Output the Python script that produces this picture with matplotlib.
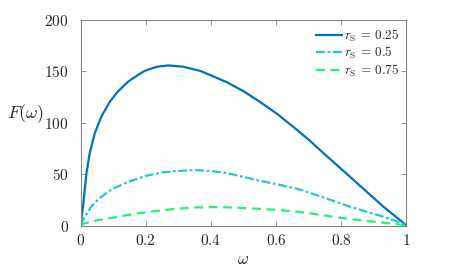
import matplotlib
matplotlib.use("Agg")
import matplotlib.pyplot as plt

plt.rcParams['mathtext.fontset'] = 'cm'
plt.rcParams['font.family'] = 'serif'
plt.rcParams['font.serif'] = ['DejaVu Serif']

# Data
w_a = [0.0, 0.008, 0.013, 0.018, 0.028, 0.044, 0.064, 0.09, 0.115, 0.146, 0.176,
       0.197, 0.234, 0.269, 0.315, 0.367, 0.397, 0.448, 0.499, 0.551, 0.602, 0.653,
       0.702, 0.724, 0.775, 0.827, 0.878, 0.929, 0.98, 1.0]
F_a = [0.0, 19.0, 35.0, 50.0, 70.0, 90.0, 106.0, 120.5, 130.5, 140.0, 146.5,
       150.5, 154.5, 155.8, 154.5, 150.5, 146.5, 139.6, 130.9, 120.2, 108.9, 95.9,
       83.0, 76.5, 62.0, 47.4, 32.8, 18.3, 5.3, 0.0]

w_b = [0.0, 0.013, 0.033, 0.054, 0.075, 0.095, 0.146, 0.197, 0.248, 0.294, 0.35,
       0.4, 0.45, 0.49, 0.551, 0.612, 0.673, 0.724, 0.775, 0.827, 0.878, 0.929, 0.98, 1.0]
F_b = [0.0, 8.5, 18.3, 25.5, 30.5, 35.0, 42.5, 48.0, 51.5, 53.0, 54.0,
       53.0, 51.0, 48.0, 43.5, 39.5, 35.0, 29.6, 24.0, 18.3, 13.4, 8.5, 3.1, 0.0]

w_c = [0.0, 0.013, 0.054, 0.115, 0.176, 0.238, 0.294, 0.35, 0.4, 0.45, 0.49,
       0.551, 0.612, 0.673, 0.724, 0.775, 0.827, 0.878, 0.929, 0.98, 1.0]
F_c = [0.0, 2.1, 5.3, 8.5, 11.8, 14.4, 16.3, 17.5, 17.9, 17.7, 17.1,
       16.2, 15.0, 13.2, 10.9, 8.5, 6.3, 4.4, 2.7, 1.0, 0.0]

labels = [r'$r_{\mathrm{S}}\,=\,0.25$', r'$r_{\mathrm{S}}\,=\,0.5$', r'$r_{\mathrm{S}}\,=\,0.75$']
xticks = [0, 0.2, 0.4, 0.6, 0.8, 1]
xticklabels = ['$0$', '$0.2$', '$0.4$', '$0.6$', '$0.8$', '$1$']
yticks = [0, 50, 100, 150, 200]
yticklabels = ['$0$', '$50$', '$100$', '$150$', '$200$']

fig = plt.figure(figsize=(4.51, 2.68), dpi=100)
ax = fig.add_axes([80.5/451, 42.5/268, 326/451, 205.5/268])

ax.plot(w_a, F_a, color='#0072BD', lw=1.6, ls='-', label=labels[0])
ax.plot(w_b, F_b, color='#1FC8D2', lw=1.6, ls=(0, (4, 1.2, 1.2, 1.2)), label=labels[1])
ax.plot(w_c, F_c, color='#1EF46E', lw=1.6, ls=(0, (4, 2.5)), label=labels[2])

ax.set_xlim(0, 1)
ax.set_ylim(0, 200)
ax.set_xticks(xticks)
ax.set_xticklabels(xticklabels)
ax.set_yticks(yticks)
ax.set_yticklabels(yticklabels)

gray = '#858585'
for s in ax.spines.values():
    s.set_color(gray)
    s.set_linewidth(0.8)
ax.tick_params(direction='in', length=3.5, width=0.6, color=gray,
               top=True, right=True, labelsize=11, labelcolor='#262626')
ax.tick_params(axis='y', pad=8.5)
ax.tick_params(axis='x', pad=5.5)

ax.set_xlabel(r'$\omega$', fontsize=12, color='#262626', labelpad=2)
ax.set_ylabel(r'$F(\omega)$', fontsize=13, color='#262626', rotation=0)
ax.yaxis.set_label_coords(-0.17, 0.49)

leg = ax.legend(loc='upper right', frameon=False, fontsize=9.5, handlelength=1.9,
                handletextpad=0.2, labelspacing=0.1, borderaxespad=0.0,
                bbox_to_anchor=(0.995, 0.99))
for t in leg.get_texts():
    t.set_color('#262626')

fig.savefig('out.png', dpi=100)
